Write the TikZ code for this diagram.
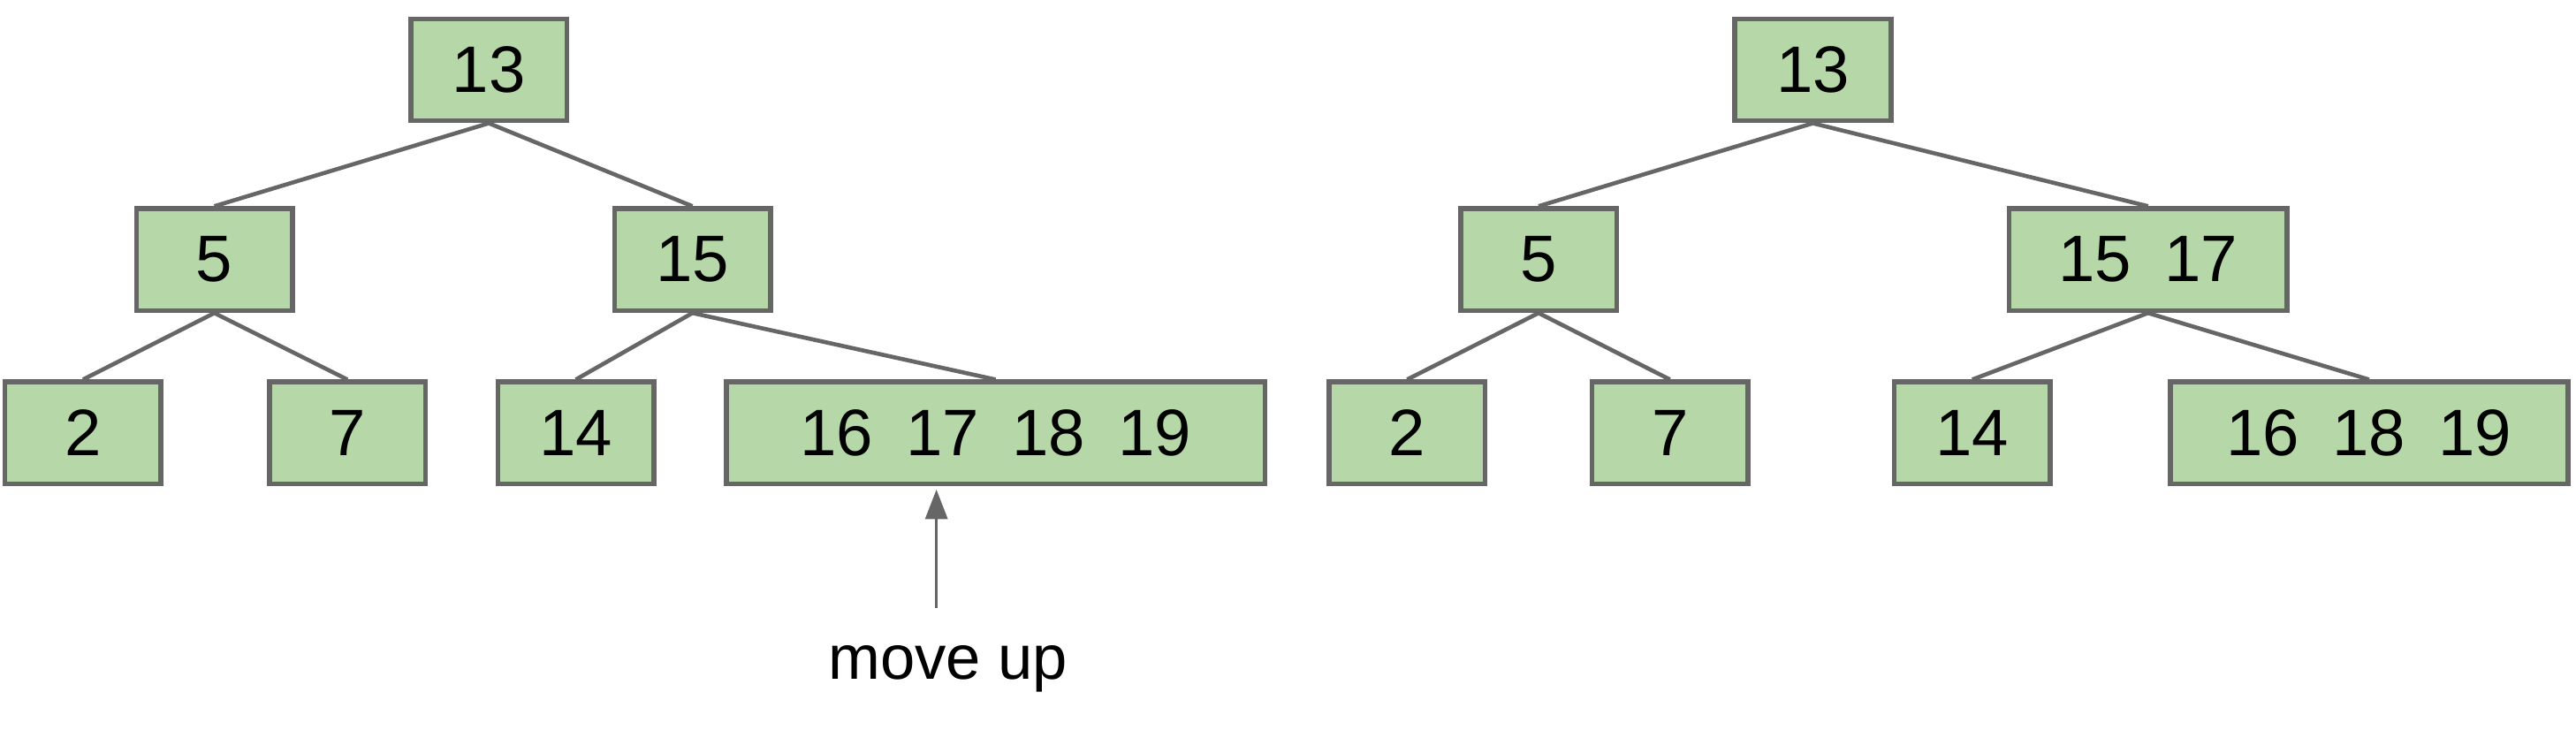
\documentclass[tikz,border=0pt]{standalone}
\usepackage{fontspec}
\setmainfont{Liberation Sans}
\definecolor{boxfill}{HTML}{B6D7A8}
\definecolor{boxline}{HTML}{666666}
\begin{document}
\begin{tikzpicture}[x=1pt,y=-1pt,
  bx/.style={draw=boxline,fill=boxfill,line width=3pt,inner sep=0pt,minimum height=62pt,font=\fontsize{40}{40}\selectfont},
  ed/.style={draw=boxline,line width=2.5pt}]
\useasboundingbox (0,0) rectangle (1568,458);
\newcommand{\bxat}[6]{\node[bx,minimum width=#4-#3] (#1) at ({(#3+#4)/2},{(#5+#6)/2}) {#2};}
\bxat{a}{13}{250}{345}{11}{74}
\bxat{b}{5}{83}{178}{127}{189}
\bxat{c}{15}{374}{469}{127}{189}
\bxat{d}{2}{3}{98}{232}{295}
\bxat{e}{7}{164}{259}{232}{295}
\bxat{f}{14}{303}{398}{232}{295}
\bxat{g}{16\hspace{0.5em}17\hspace{0.5em}18\hspace{0.5em}19}{442}{770}{232}{295}
\bxat{A}{13}{1056}{1151}{11}{74}
\bxat{B}{5}{889}{984}{127}{189}
\bxat{C}{15\hspace{0.5em}17}{1223}{1392}{127}{189}
\bxat{D}{2}{809}{904}{232}{295}
\bxat{E}{7}{969}{1064}{232}{295}
\bxat{F}{14}{1153}{1248}{232}{295}
\bxat{G}{16\hspace{0.5em}18\hspace{0.5em}19}{1321}{1563}{232}{295}
\foreach \p/\c in {a/b,a/c,b/d,b/e,c/f,c/g,A/B,A/C,B/D,B/E,C/F,C/G}
  \draw[ed] (\p.south) -- (\c.north);
\node[font=\fontsize{38}{38}\selectfont] (mv) at (577,407) {move up};
\coordinate (tail) at (570,370);
\coordinate (tip) at (570,298);
\draw[draw=boxline,fill=boxline,line width=1.5pt] (tail) -- (570,314);
\fill[boxline] (tip) -- (563,316) -- (577,316) -- cycle;
\end{tikzpicture}
\end{document}
